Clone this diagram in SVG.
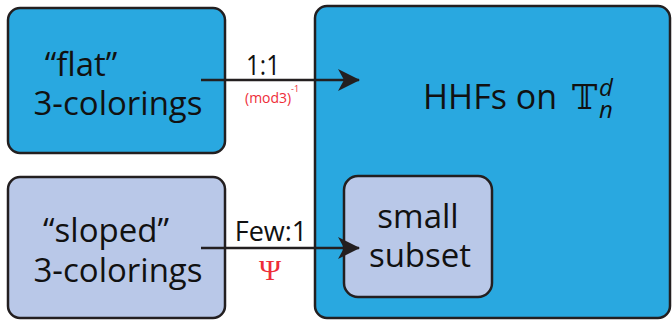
<svg xmlns="http://www.w3.org/2000/svg" width="672" height="320" viewBox="0 0 672 320">
<defs>
<style>
.box{stroke:#231F20;stroke-width:2.5}
.blue{fill:#29A8E0}
.lav{fill:#B9C8E8}
text{font-family:"Open Sans","Noto Sans","Liberation Sans",sans-serif;fill:#111}
.big{font-size:33px}
.lbl{font-size:27px}
.red{fill:#EE2D38}
.edge{stroke:#231F20;stroke-width:2.5;fill:none}
</style>
<marker id="ah" viewBox="0 0 22 24" refX="21" refY="12" markerWidth="22" markerHeight="24" markerUnits="userSpaceOnUse" orient="auto">
<path d="M0,1 L22,12 L0,23 L6,12 Z" fill="#231F20"/>
</marker>
</defs>
<rect width="672" height="320" fill="#fff"/>
<g id="node-flat">
<rect class="box blue" x="8" y="8" width="217" height="145" rx="12"/>
<text class="big" x="81" y="76" text-anchor="middle">“flat”</text>
<text class="big" x="118" y="115" text-anchor="middle">3-colorings</text>
</g>
<g id="node-sloped">
<rect class="box lav" x="8" y="177" width="217" height="141" rx="12"/>
<text class="big" x="106" y="242" text-anchor="middle">“sloped”</text>
<text class="big" x="118" y="282" text-anchor="middle">3-colorings</text>
</g>
<g id="node-hhf">
<rect class="box blue" x="315" y="6" width="355" height="312" rx="12"/>
<text x="423" y="109" font-size="34">HHFs on</text>
<text x="572" y="109" font-size="34" style="font-family:'DejaVu Serif','DejaVu Sans',serif">𝕋</text>
<text x="599" y="96" font-size="24" font-style="italic">d</text>
<text x="599" y="118" font-size="24" font-style="italic">n</text>
</g>
<g id="node-subset">
<rect class="box lav" x="344" y="176" width="148" height="121" rx="14"/>
<text class="big" x="418" y="228" text-anchor="middle">small</text>
<text class="big" x="420" y="267" text-anchor="middle">subset</text>
</g>
<g id="connectors">
<line class="edge" x1="201" y1="80" x2="359" y2="80" marker-end="url(#ah)"/>
<line class="edge" x1="201" y1="248" x2="359" y2="248" marker-end="url(#ah)"/>
</g>
<g id="labels">
<text class="lbl" x="263" y="75" text-anchor="middle" textLength="34" lengthAdjust="spacingAndGlyphs">1:1</text>
<text class="red" x="245" y="103" font-size="14">(mod3)</text>
<text class="red" x="291" y="92" font-size="9">-1</text>
<text class="lbl" x="271" y="241" text-anchor="middle">Few:1</text>
<text class="red" x="270" y="280" text-anchor="middle" font-size="30" style="font-family:'Liberation Serif','DejaVu Serif',serif">Ψ</text>
</g>
</svg>
